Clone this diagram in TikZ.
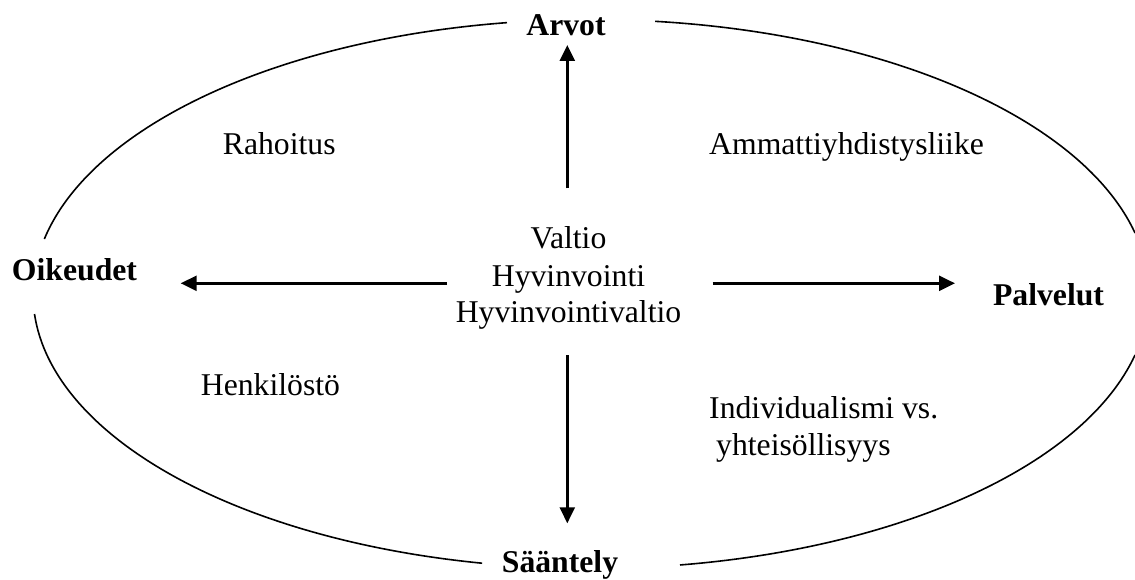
\documentclass[tikz,border=0pt]{standalone}
\usepackage{fontspec}
\setmainfont{Liberation Serif}
\usetikzlibrary{arrows.meta}
\begin{document}
\begin{tikzpicture}[x=1pt,y=1pt,
  txt/.style={inner sep=0pt,font=\fontsize{31.7}{37}\selectfont},
  lbl/.style={inner sep=0pt,font=\fontsize{31.7}{37}\selectfont\bfseries,anchor=base},
  arr/.style={line width=2.6pt,-{Triangle[length=16pt,width=15pt]}},
  ell/.style={line width=1.6pt}]
\useasboundingbox (0,0) rectangle (1135,579);
% ellipse arcs (center 591,285; radii 558 x 274.5)
\coordinate (E) at (591,285);
\draw[ell] (E) ++(12.84:558 and 274.5) arc[start angle=12.84,end angle=83.4,x radius=558,y radius=274.5];
\draw[ell] (E) ++(98.66:558 and 274.5) arc[start angle=98.66,end angle=168.44,x radius=558,y radius=274.5];
\draw[ell] (E) ++(184.18:558 and 274.5) arc[start angle=184.18,end angle=258.74,x radius=558,y radius=274.5];
\draw[ell] (E) ++(279.18:558 and 274.5) arc[start angle=279.18,end angle=347.16,x radius=558,y radius=274.5];
% bold labels
\node[lbl] (arvot) at (566,543) {Arvot};
\node[lbl] (oik) at (74.5,298) {Oikeudet};
\node[lbl] (palv) at (1048.5,273) {Palvelut};
\node[lbl] (saant) at (560,7) {Sääntely};
% centre text
\node[txt,anchor=base] (valtio) at (568.5,330) {Valtio};
\node[txt,anchor=base] (hyv) at (568.5,292) {Hyvinvointi};
\node[txt,anchor=base] (hyvv) at (568.5,256) {Hyvinvointivaltio};
% other texts
\node[txt,anchor=base west] (rah) at (222.7,424) {Rahoitus};
\node[txt,anchor=base west] (amm) at (709,424) {Ammattiyhdistysliike};
\node[txt,anchor=base west] (henk) at (200.7,184) {Henkilöstö};
\node[txt,anchor=base west] (ind) at (709,161) {Individualismi vs.};
\node[txt,anchor=base west] (yht) at (716,124) {yhteisöllisyys};
% arrow end points
\coordinate (upT) at (567.3,390.7);
\coordinate (upH) at (567.3,534);
\coordinate (dnT) at (567.3,224);
\coordinate (dnH) at (567.3,55.7);
\coordinate (lfT) at (447,295.7);
\coordinate (lfH) at (180.7,295.7);
\coordinate (rtT) at (712.7,295.7);
\coordinate (rtH) at (955,295.7);
\draw[arr] (upT) -- (upH);
\draw[arr] (dnT) -- (dnH);
\draw[arr] (lfT) -- (lfH);
\draw[arr] (rtT) -- (rtH);
\end{tikzpicture}
\end{document}
